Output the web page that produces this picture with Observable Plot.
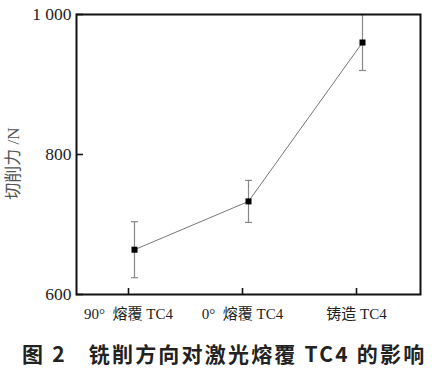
<!DOCTYPE html>
<html><head><meta charset="utf-8">
<script src="https://cdn.jsdelivr.net/npm/d3@7"></script>
<script src="https://cdn.jsdelivr.net/npm/@observablehq/plot@0.6"></script>
<style>
body{margin:0;background:#fff;}
#chart svg{display:block;}
.caption{font-family:"Noto Sans CJK SC",sans-serif;font-weight:bold;font-size:21px;letter-spacing:2.2px;color:#222;padding-left:22px;margin-top:9px;line-height:28px;white-space:pre;}
</style></head><body>
<div id="chart"></div>
<div class="caption">图 2<span style="margin-left:22px">铣削方向对激光熔覆 TC4 的影响</span></div>
<script>
const categories = ["90°  熔覆 TC4", "0°  熔覆 TC4", "铸造 TC4"];
const force = [664, 733, 960];
const forceLow = [624, 703, 920];
const forceHigh = [704, 763, 1000];
const yTicks = [600, 800, 1000];
const yTickLabels = ["600", "800", "1 000"];
const yLabel = "切削力 /N";

const data = categories.map((c, i) => ({cat: c, force: force[i], low: forceLow[i], high: forceHigh[i]}));

// horizontal cap symbol for error bars
const capSymbol = {draw(ctx) { ctx.moveTo(-3.5, 0); ctx.lineTo(3.5, 0); }};

const chart = Plot.plot({
  width: 432, height: 330,
  marginLeft: 76, marginRight: 12, marginTop: 14, marginBottom: 36,
  style: {fontFamily: '"Liberation Serif", "Noto Sans CJK SC", serif', fontSize: "16px", color: "#222", background: "#fff"},
  x: {type: "point", domain: categories, padding: 0.5},
  y: {domain: [600, 1000]},
  marks: [
    Plot.axisX({tickSize: -6, tickPadding: 20, fontSize: 15, dx: -6, label: null, stroke: "#111", strokeWidth: 1.6}),
    Plot.axisY({ticks: yTicks, tickFormat: d => yTickLabels[yTicks.indexOf(d)], tickSize: -7, tickPadding: 12, fontSize: 17.5, label: null, stroke: "#111", strokeWidth: 1.6}),
    Plot.text([yLabel], {frameAnchor: "left", rotate: -90, dx: -63, dy: 9, textAnchor: "middle", lineAnchor: "middle", fill: "#555", fontSize: 17}),
    Plot.ruleX(data, {x: "cat", y1: "low", y2: "high", stroke: "#888", strokeWidth: 1.2}),
    Plot.dot(data, {x: "cat", y: "low", symbol: capSymbol, stroke: "#888", strokeWidth: 1.2, fill: "none"}),
    Plot.dot(data, {x: "cat", y: "high", symbol: capSymbol, stroke: "#888", strokeWidth: 1.2, fill: "none"}),
    Plot.line(data, {x: "cat", y: "force", stroke: "#777", strokeWidth: 1}),
    Plot.dot(data, {x: "cat", y: "force", symbol: "square", r: 3.4, fill: "#000", stroke: "none"}),
    Plot.frame({stroke: "#111", strokeWidth: 2})
  ]
});
document.getElementById("chart").append(chart);
</script>
</body></html>
